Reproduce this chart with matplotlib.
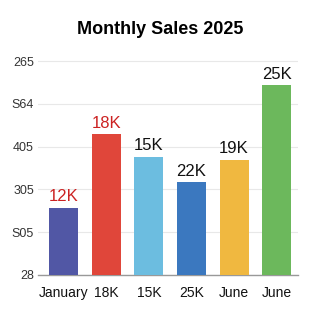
# Monthly sales bar chart
import matplotlib.pyplot as plt

# data
months = ['January', '18K', '15K', '25K', 'June', 'June']
sales = [1.57, 3.29, 2.76, 2.17, 2.69, 4.44]
bar_labels = ['12K', '18K', '15K', '22K', '19K', '25K']
ytick_pos = [0, 1, 2, 3, 4, 5]
ytick_labels = ['28', 'S05', '305', '405', 'S64', '265']

colors = ['#5157a5', '#e0463a', '#6cbde0', '#3b78bf', '#f0b840', '#6cb85c']
label_colors = ['#cc2222', '#cc2222', '#111111', '#111111', '#111111', '#111111']

plt.rcParams['font.family'] = ['Liberation Sans', 'DejaVu Sans']

fig = plt.figure(figsize=(3.2, 3.2), dpi=100)
ax = fig.add_axes([0.119, 0.141, 0.812, 0.703])

x = range(len(months))
ax.bar(x, sales, width=0.68, color=colors, zorder=3)

for i, v in enumerate(sales):
    ax.text(i, v + 0.08, bar_labels[i], ha='center', va='bottom',
            fontsize=12, color=label_colors[i], zorder=4)

ax.set_xlim(-0.6, 5.5)
ax.set_ylim(0, 5.26)
ax.set_xticks(list(x))
ax.set_xticklabels(months, fontsize=10, color='#111111')
ax.set_yticks(ytick_pos)
ax.set_yticklabels(ytick_labels, fontsize=9, color='#333333')
ax.tick_params(axis='x', length=0, pad=8)
ax.tick_params(axis='y', length=0, pad=3)

ax.grid(axis='y', color='#e8e8e8', linewidth=0.8, zorder=0)
for s in ['top', 'right', 'left']:
    ax.spines[s].set_visible(False)
ax.spines['bottom'].set_color('#999999')
ax.spines['bottom'].set_linewidth(1.0)

fig.suptitle('Monthly Sales 2025', fontsize=13, fontweight='bold', y=0.935)

fig.savefig('out.png', dpi=100)
